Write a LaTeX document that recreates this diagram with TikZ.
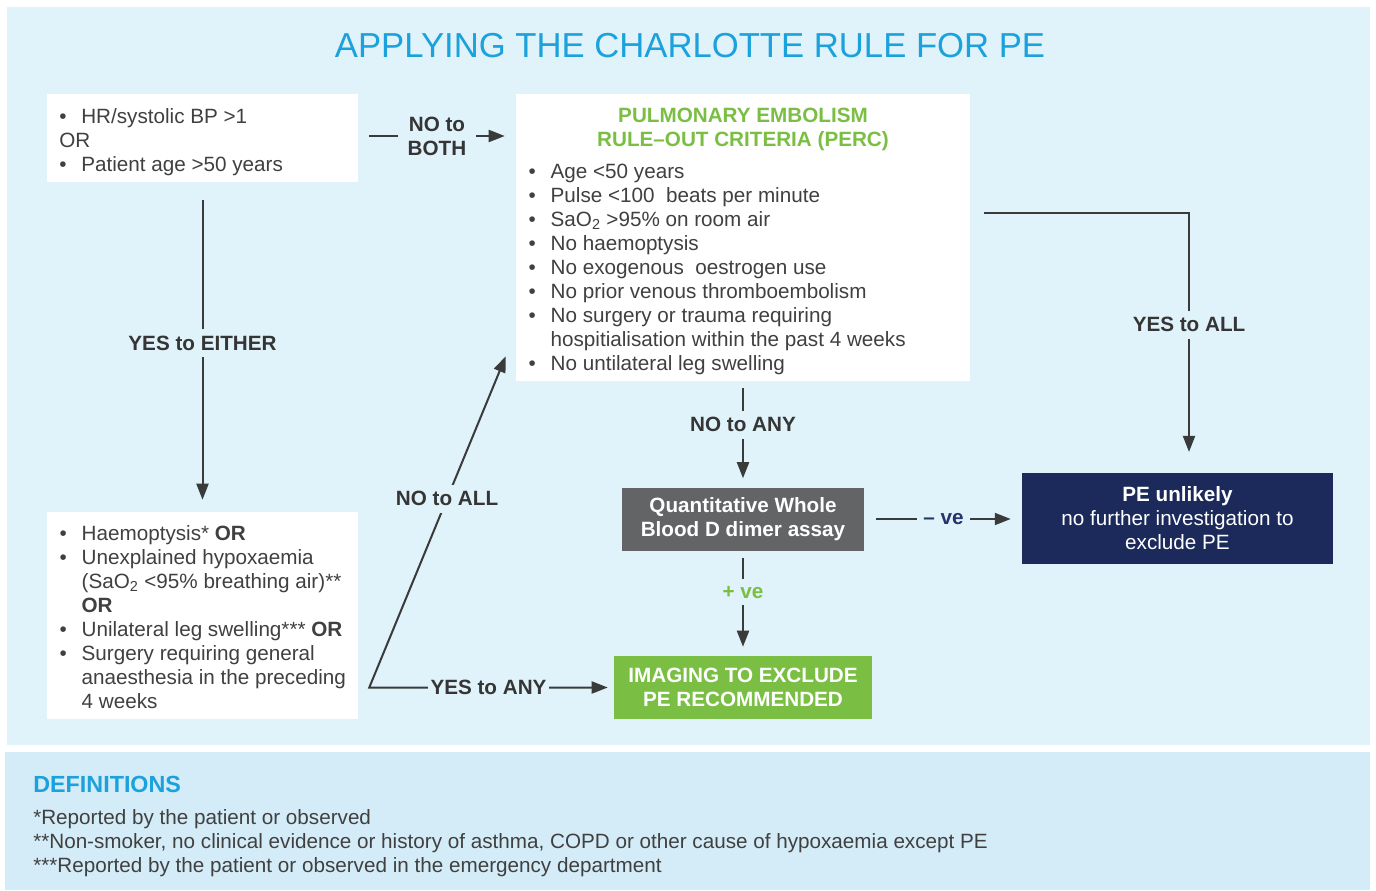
\documentclass[tikz,border=0pt]{standalone}
\usepackage{fontspec}
\setmainfont{Liberation Sans}
\usetikzlibrary{arrows.meta,calc,fit}
\definecolor{panelA}{HTML}{E0F2FA}
\definecolor{panelB}{HTML}{D4ECF8}
\definecolor{titleC}{HTML}{1BA1DB}
\definecolor{greenC}{HTML}{7ABF43}
\definecolor{navyC}{HTML}{1B2A5B}
\definecolor{veC}{HTML}{27346B}
\definecolor{greyC}{HTML}{636466}
\definecolor{txt}{HTML}{404040}
\definecolor{lblC}{HTML}{353535}
\definecolor{lineC}{HTML}{3A3A3A}
\newcommand{\myfs}[2]{\fontsize{#1}{#2}\selectfont\setbox\strutbox\hbox{\vrule height 0.7\baselineskip depth 0.3\baselineskip width 0pt}}
\newcommand{\pbul}{\makebox[16.5pt][l]{\textbullet}}
\begin{document}
\begin{tikzpicture}[x=0.75pt,y=-0.75pt,
  body/.style={font=\myfs{15.5}{18}, text=txt, inner sep=0pt},
  whitebox/.style={fill=white, inner sep=0pt},
  colbox/.style={inner sep=0pt, text=white, align=center, font=\myfs{15.5}{18}},
  conn/.style={draw=lineC, line width=1.5pt, -{Triangle[length=12pt,width=9pt]}},
  lbl/.style={fill=panelA, inner sep=5pt, font=\bfseries\myfs{15.5}{18}, text=lblC, align=center},
]
% background and panels
\path[use as bounding box, fill=white] (0,0) rectangle (1376,891);
\fill[panelA] (7,7) rectangle (1370,745);
\fill[panelB] (5,752) rectangle (1370,890);

% title
\node[anchor=base, inner sep=0pt, font=\fontsize{26}{30}\selectfont, text=titleC] (title) at (690,58) {APPLYING THE CHARLOTTE RULE FOR PE};

% white boxes
\node[whitebox, fit={(47,94) (358,182)}] (A) {};
\node[whitebox, fit={(516,94) (970,381)}] (B) {};
\node[whitebox, fit={(47,512) (358,719)}] (C) {};

% box A text
\node[body, anchor=north west] (Atext) at (59,106.2) {\begin{tabular}{@{}l@{}}
\pbul HR/systolic BP >1\\
OR\\
\pbul Patient age >50 years
\end{tabular}};

% PERC title
\node[body, anchor=north, text=greenC, font=\bfseries\myfs{15.5}{18}] (Btitle) at (743,105.2) {\begin{tabular}{@{}c@{}}
PULMONARY EMBOLISM\\
RULE–OUT CRITERIA (PERC)
\end{tabular}};

% PERC list
\node[body, anchor=north west] (Btext) at (528.4,161.2) {\begin{tabular}{@{}l@{}}
\pbul Age <50 years\\
\pbul Pulse <100 \ beats per minute\\
\pbul SaO\textsubscript{2} >95\% on room air\\
\pbul No haemoptysis\\
\pbul No exogenous \ oestrogen use\\
\pbul No prior venous thromboembolism\\
\pbul No surgery or trauma requiring\\
\hspace*{16.5pt}hospitialisation within the past 4 weeks\\
\pbul No untilateral leg swelling
\end{tabular}};

% box C text
\node[body, anchor=north west] (Ctext) at (59.4,523.2) {\begin{tabular}{@{}l@{}}
\pbul Haemoptysis* \textbf{OR}\\
\pbul Unexplained hypoxaemia\\
\hspace*{16.5pt}(SaO\textsubscript{2} <95\% breathing air)**\\
\hspace*{16.5pt}\textbf{OR}\\
\pbul Unilateral leg swelling*** \textbf{OR}\\
\pbul Surgery requiring general\\
\hspace*{16.5pt}anaesthesia in the preceding\\
\hspace*{16.5pt}4 weeks
\end{tabular}};

% coloured boxes
\node[colbox, fill=greyC, minimum width=181.5pt, minimum height=47.25pt] (D) at (743,519) {\textbf{Quantitative Whole}\\\textbf{Blood D dimer assay}};
\node[colbox, fill=navyC, minimum width=233.25pt, minimum height=68pt] (E) at (1177.5,518.5) {\textbf{PE unlikely}\\no further investigation to\\exclude PE};
\node[colbox, fill=greenC, minimum width=193.5pt, minimum height=47.25pt] (F) at (743,687.5) {\textbf{IMAGING TO EXCLUDE}\\\textbf{PE RECOMMENDED}};

% connectors
\draw[conn] ($(A.east)+(11,-2)$) -- node[lbl, inner xsep=7pt] (l1) {NO to\\BOTH} ($(B.west |- A.east)+(-11,-2)$);
\draw[conn] ($(A.south)+(0,18)$) -- node[lbl, pos=0.477] (l2) {YES to EITHER} ($(C.north)+(0,-12)$);
\coordinate (cY) at ($(C.east |- F.west)+(11,0)$);
\draw[draw=lineC, line width=1.5pt, {Triangle[length=12pt,width=9pt]}-{Triangle[length=12pt,width=9pt]}]
  ($(B.south west)+(-10,-25)$) -- node[lbl, pos=0.43] (l3) {NO to ALL} (cY)
  -- node[lbl, inner xsep=2pt] (l4) {YES to ANY} ($(F.west)+(-6,0)$);
\draw[conn] ($(B.north east)+(14,119)$) -| node[lbl, pos=0.734] (l5) {YES to ALL} ($(E.north)+(11.5,-21)$);
\draw[conn] ($(B.south)+(0,7)$) -- node[lbl, pos=0.405] (l6) {NO to ANY} ($(D.north)+(0,-9)$);
\draw[conn] ($(D.east)+(12,0)$) -- node[lbl, text=veC] (l7) {– ve} ($(E.west |- D.east)+(-11,0)$);
\draw[conn] ($(D.south)+(0,7)$) -- node[lbl, pos=0.388, text=greenC] (l8) {+ ve} ($(F.north)+(0,-9)$);

% definitions
\node[anchor=base west, inner sep=0pt, font=\bfseries\fontsize{17.5}{21}\selectfont, text=titleC] (defh) at (33,792) {DEFINITIONS};
\node[body, anchor=north west] (defs) at (33,807.2) {\begin{tabular}{@{}l@{}}
*Reported by the patient or observed\\{}%
**Non-smoker, no clinical evidence or history of asthma, COPD or other cause of hypoxaemia except PE\\{}%
***Reported by the patient or observed in the emergency department
\end{tabular}};
\end{tikzpicture}
\end{document}
